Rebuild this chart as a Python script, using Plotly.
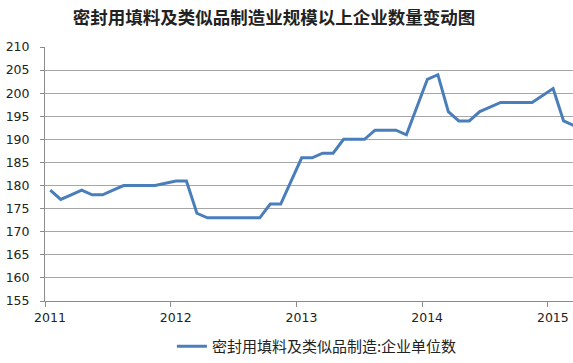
import plotly.graph_objects as go

# Monthly data, Jan 2011 .. Mar 2015 (December values missing; line connects across gaps)
months = [f"{y}-{m:02d}" for y in range(2011, 2016) for m in range(1, 13)][:51]
values = [179, 177, 178, 179, 178, 178, 179, 180, 180, 180, 180, None,
          181, 181, 174, 173, 173, 173, 173, 173, 173, 176, 176, None,
          186, 186, 187, 187, 190, 190, 190, 192, 192, 192, 191, None,
          203, 204, 196, 194, 194, 196, 197, 198, 198, 198, 198, None,
          201, 194, 193]
year_labels = ["2011", "2012", "2013", "2014", "2015"]
series_name = "密封用填料及类似品制造:企业单位数"
title_text = "密封用填料及类似品制造业规模以上企业数量变动图"

# month-centred positions (Excel date axis style)
xpos = [i + 0.5 for i in range(len(months))]

fig = go.Figure()
fig.add_trace(go.Scatter(
    x=xpos, y=values, mode="lines", name=series_name,
    line=dict(color="#4A7EBB", width=3), connectgaps=True,
    customdata=months, hovertemplate="%{customdata}: %{y}<extra></extra>",
))

fig.update_layout(
    width=573, height=363,
    margin=dict(l=45, r=0, t=47, b=61),
    paper_bgcolor="white", plot_bgcolor="white",
    title=dict(text=title_text, x=0.478, xanchor="center", y=1 - 18 / 363, yanchor="middle",
               font=dict(family="Noto Sans CJK SC", size=17.5, color="#222222", weight="bold")),
    showlegend=True,
    legend=dict(orientation="h", x=0.515, xanchor="center", y=-0.18, yanchor="middle",
                font=dict(family="Noto Sans CJK SC", size=15, color="#222222"),
                bgcolor="rgba(0,0,0,0)"),
    font=dict(family="DejaVu Sans", size=12.5, color="#222222"),
)

fig.update_xaxes(
    range=[0, 50.4], tickmode="array",
    tickvals=[12 * i for i in range(len(year_labels))], ticktext=year_labels,
    ticks="outside", ticklen=5, tickcolor="#8C8C8C", ticklabelshift=5,
    showline=True, linecolor="#8C8C8C", linewidth=1,
    showgrid=False, zeroline=False,
    tickfont=dict(family="DejaVu Sans", size=12.5, color="#222222"),
)
fig.update_yaxes(
    range=[155, 210], dtick=5, tick0=155,
    ticks="outside", ticklen=4, tickcolor="#8C8C8C", ticklabelstandoff=8,
    showline=True, linecolor="#8C8C8C", linewidth=1,
    showgrid=True, gridcolor="#A6A6A6", gridwidth=1, zeroline=False,
    tickfont=dict(family="DejaVu Sans", size=12.5, color="#222222"),
)

fig.write_html("out.html")
